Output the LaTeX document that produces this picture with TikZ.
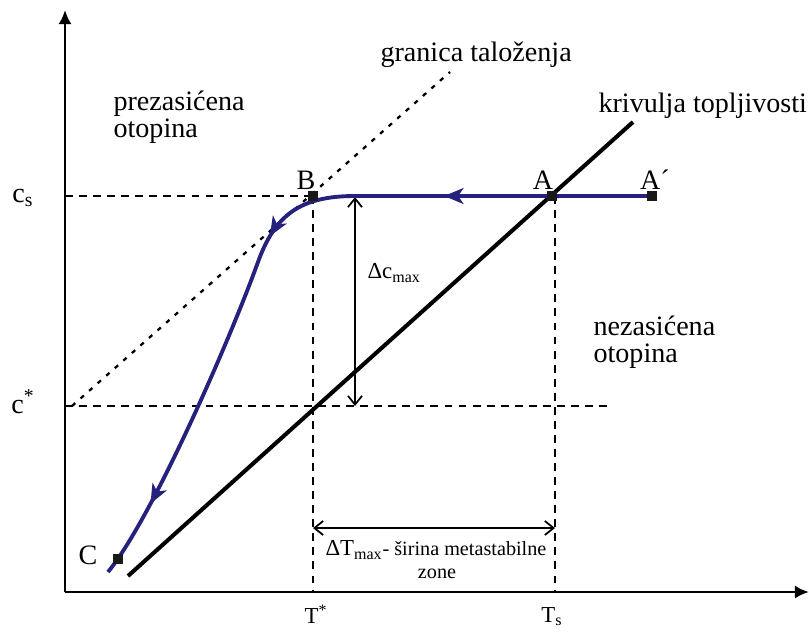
\documentclass[tikz,border=0pt]{standalone}
\usepackage{fontspec}
\setmainfont{Liberation Serif}
\usepackage{xcolor}
\definecolor{pathblue}{HTML}{25217D}
\usepackage{tikz}
\usetikzlibrary{arrows,arrows.meta,decorations.markings}

\begin{document}
\begin{tikzpicture}[x=0.02cm,y=-0.02cm,semithick,font=\fontsize{16}{15.3}\selectfont]
            \tikzstyle{ax}=[line width=1.6pt,-{Latex[length=8pt,width=7.5pt]}]
            \tikzstyle{guide}=[line width=0.8pt,dash pattern=on 4.5pt off 3.5pt]
            \tikzstyle{limit}=[line width=1.3pt,dash pattern=on 2.5pt off 4pt]
            \tikzstyle{sol}=[line width=2.3pt]
            \tikzstyle{dim}=[line width=1pt,{Straight Barb[length=5pt,width=8pt]}-{Straight Barb[length=5pt,width=8pt]}]
            \tikzstyle{flow}=[pathblue,line width=2.2pt]
            \tikzstyle{tip}=[postaction={decorate}]
            \tikzstyle{pt}=[fill=black!90,inner sep=0pt,minimum size=0.2cm]
            \tikzstyle{lbl}=[inner sep=0pt]
            \tikzstyle{small}=[lbl,font=\fontsize{13}{14}\selectfont]

            \useasboundingbox (0,0) rectangle (809,637);

            % axes
            \coordinate (O) at (65,592);
            \coordinate (yend) at (65,10);
            \coordinate (xend) at (809,592);
            \draw[ax] (O) -- (yend);
            \draw[ax] (O) -- (xend);

            % points of the path
            \coordinate (pAp) at (652,196);
            \coordinate (pA) at (552,196);
            \coordinate (pB) at (313,196);
            \coordinate (pC) at (118,559);
            \coordinate (bend) at (355,196);
            \coordinate (pend) at (108,572);

            % guide lines
            \coordinate (cs) at (65,196);
            \coordinate (cst) at (65,406);
            \coordinate (cstend) at (608,406);
            \coordinate (Tst) at (313,592);
            \coordinate (Ts) at (555,592);
            \draw[guide] (cs) -- (pB);
            \draw[guide] (cst) -- (cstend);
            \draw[guide] (pB) -- (Tst);
            \draw[guide] (555,196) -- (Ts);

            % granica taloženja and krivulja topljivosti
            \coordinate (g0) at (72,406);
            \coordinate (g1) at (450,72);
            \draw[limit] (g0) -- (g1);
            \coordinate (s0) at (128,576);
            \coordinate (s1) at (633,122);
            \draw[sol] (s0) -- (s1);

            % widths
            \coordinate (dc0) at (355,197);
            \coordinate (dc1) at (355,406);
            \draw[dim] (dc0) -- (dc1);
            \coordinate (dt0) at (313,528);
            \coordinate (dt1) at (555,528);
            \draw[dim] (dt0) -- (dt1);

            % cooling path
            \draw[flow,tip,decoration={markings,
                mark=at position 0.7 with {\arrow{Stealth[length=11pt,width=9pt,inset=3pt]}}}]
                (pAp) -- (bend);
            \draw[flow,tip,decoration={markings,
                mark=at position 0.21 with {\arrow{Stealth[length=11pt,width=9pt,inset=3pt]}},
                mark=at position 0.83 with {\arrow{Stealth[length=11pt,width=9pt,inset=3pt]}}}]
                (bend) .. controls (300,196) and (275,215) .. (258,262)
                .. controls (231,337) and (153,517) .. (pend);

            \node[pt] (Ap) at (pAp) {};
            \node[pt] (A) at (pA) {};
            \node[pt] (B) at (pB) {};
            \node[pt] (C) at (pC) {};

            % labels
            \node[lbl] (labAp) at (655,180) {A´};
            \node[lbl] (labA) at (543,180) {A};
            \node[lbl] (labB) at (306,180) {B};
            \node[lbl] (labC) at (88,555) {C};
            \node[lbl] (labcs) at (23,198) {c\textsubscript{s}};
            \node[lbl] (labcst) at (23,402) {c\textsuperscript{*}};
            \node[small] (labTst) at (316,614) {T\textsuperscript{*}};
            \node[small] (labTs) at (552,617) {T\textsubscript{s}};
            \node[lbl,anchor=west,align=left] (super) at (113,117) {prezasićena\\otopina};
            \node[lbl,anchor=west,align=left] (unsat) at (593,342) {nezasićena\\otopina};
            \node[lbl,anchor=west] (solname) at (598,106) {krivulja topljivosti};
            \node[lbl,anchor=west] (limname) at (380,55) {granica taloženja};
            \node[small,anchor=west] (dcmax) at (367,273) {Δc\textsubscript{max}};
            \node[small,anchor=west] (dtmax) at (325,550) {ΔT\textsubscript{max}{\fontsize{11.5}{12}\selectfont - širina metastabilne}};
            \node[small,font=\fontsize{11.5}{12}\selectfont] (zone) at (437,574) {zone};
        \end{tikzpicture}
\end{document}
